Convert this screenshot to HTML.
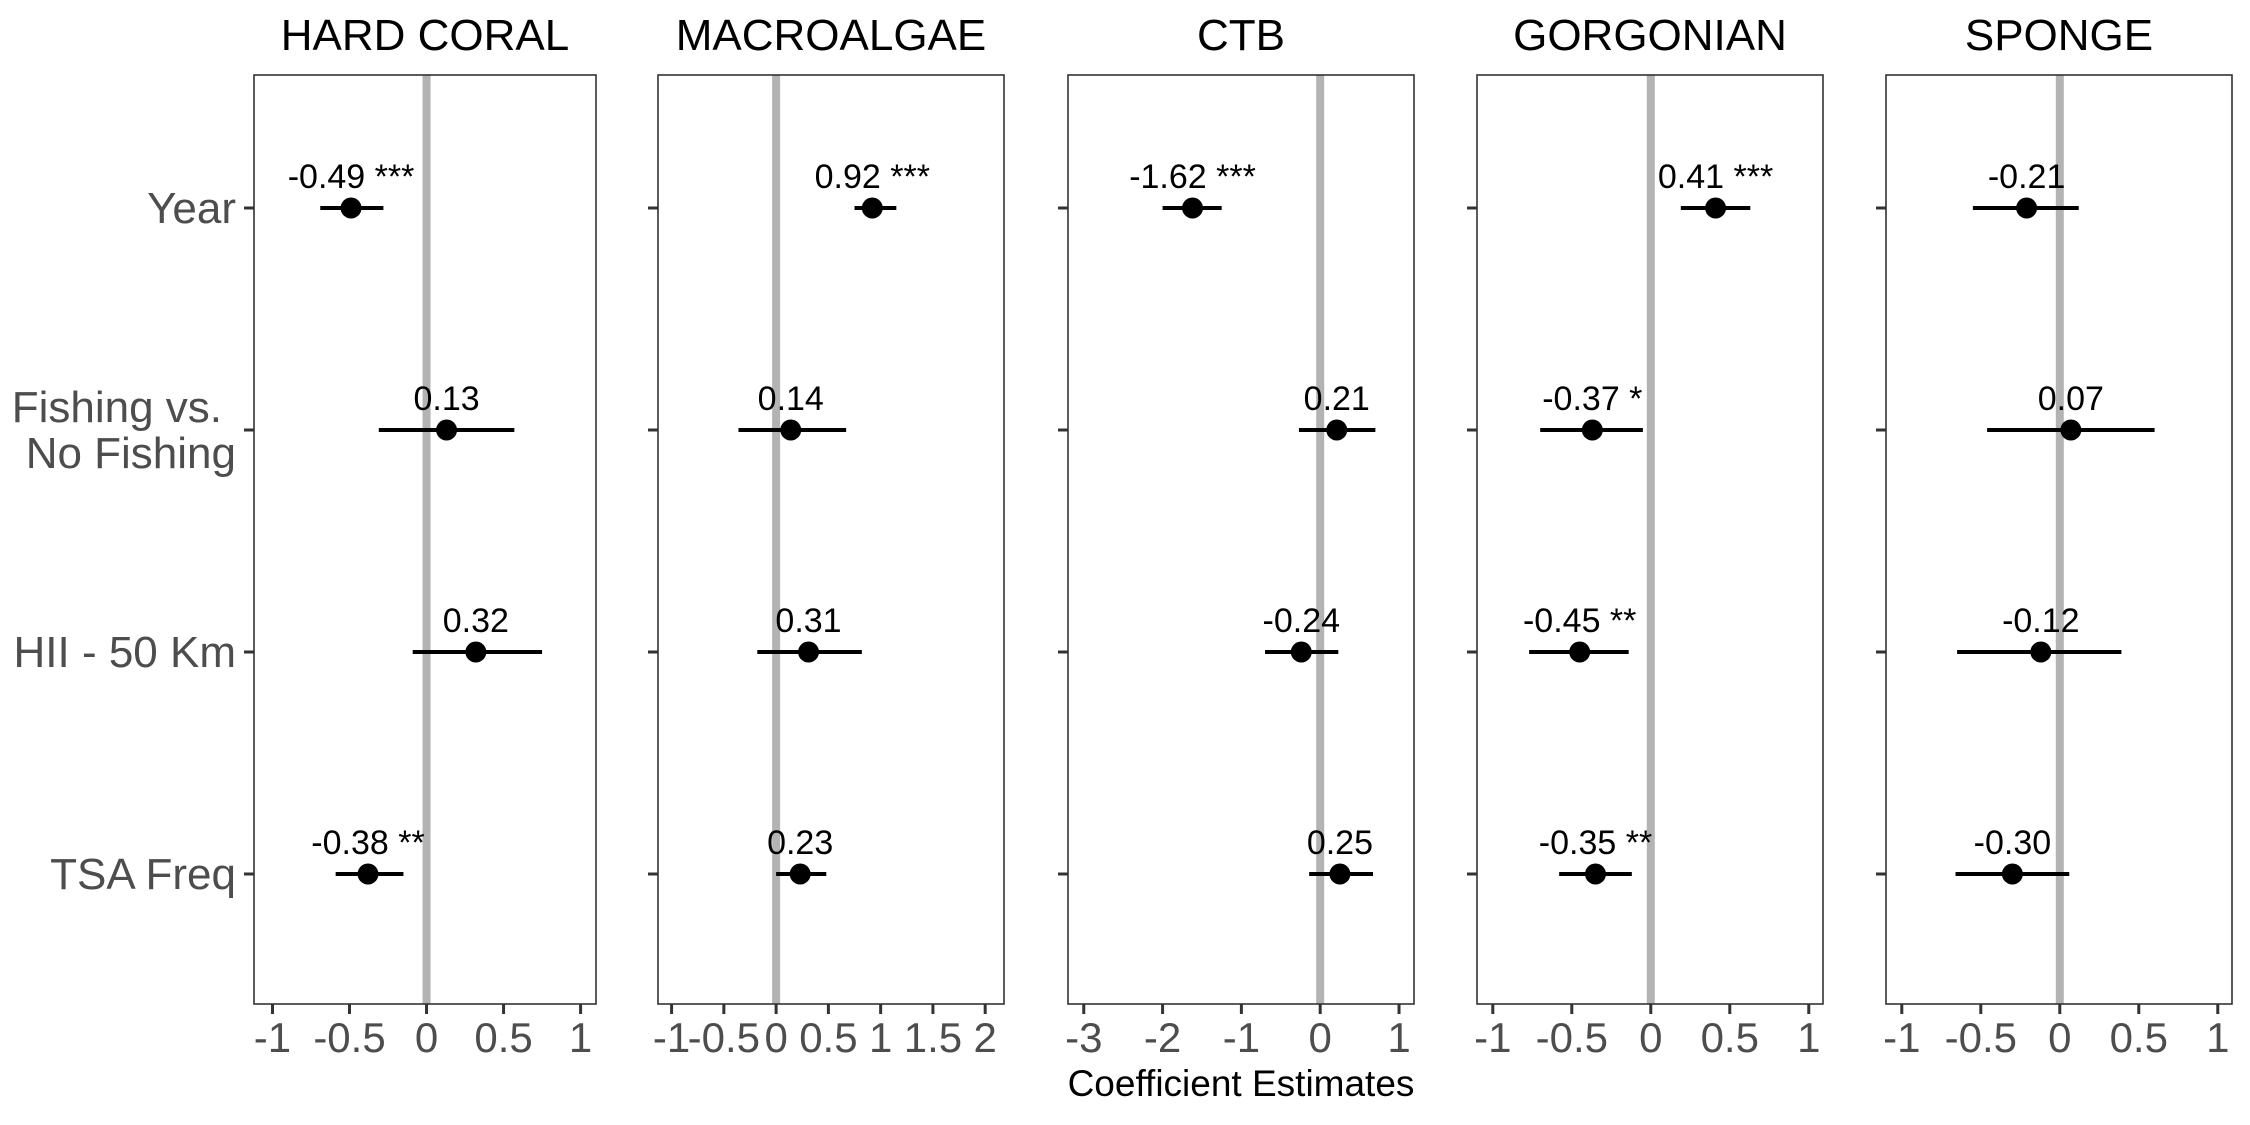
<!DOCTYPE html>
<html><head><meta charset="utf-8"><style>
html,body{margin:0;padding:0;background:#fff;}
svg{display:block;font-family:"Liberation Sans",Arial,sans-serif;}
</style></head><body>
<svg id="chart" width="2250" height="1125" viewBox="0 0 2250 1125" xmlns="http://www.w3.org/2000/svg"></svg>
<script>
const panels = ["HARD CORAL","MACROALGAE","CTB","GORGONIAN","SPONGE"];
const terms = ["Year","Fishing vs. No Fishing","HII - 50 Km","TSA Freq"];
const estHardCoral = [-0.49,0.13,0.32,-0.38];
const estMacroalgae = [0.92,0.14,0.31,0.23];
const estCTB = [-1.62,0.21,-0.24,0.25];
const estGorgonian = [0.41,-0.37,-0.45,-0.35];
const estSponge = [-0.21,0.07,-0.12,-0.30];
const lowHardCoral = [-0.69,-0.31,-0.09,-0.59];
const highHardCoral = [-0.28,0.57,0.75,-0.15];
const lowMacroalgae = [0.75,-0.36,-0.18,0.00];
const highMacroalgae = [1.15,0.67,0.82,0.48];
const lowCTB = [-2.00,-0.27,-0.70,-0.14];
const highCTB = [-1.25,0.70,0.23,0.67];
const lowGorgonian = [0.19,-0.70,-0.77,-0.58];
const highGorgonian = [0.63,-0.05,-0.14,-0.12];
const lowSponge = [-0.55,-0.46,-0.65,-0.66];
const highSponge = [0.12,0.60,0.39,0.06];
const sigHardCoral = ["***","","","**"];
const sigMacroalgae = ["***","","",""];
const sigCTB = ["***","","",""];
const sigGorgonian = ["***","*","**","**"];
const sigSponge = ["","","",""];
const ticksHardCoral = [-1,-0.5,0,0.5,1];
const ticksMacroalgae = [-1,-0.5,0,0.5,1,1.5,2];
const ticksCTB = [-3,-2,-1,0,1];
const ticksGorgonian = [-1,-0.5,0,0.5,1];
const ticksSponge = [-1,-0.5,0,0.5,1];
const domains = [[-1.12,1.10],[-1.13,2.18],[-3.20,1.19],[-1.10,1.09],[-1.10,1.09]];

const est=[estHardCoral,estMacroalgae,estCTB,estGorgonian,estSponge];
const lo=[lowHardCoral,lowMacroalgae,lowCTB,lowGorgonian,lowSponge];
const hi=[highHardCoral,highMacroalgae,highCTB,highGorgonian,highSponge];
const sig=[sigHardCoral,sigMacroalgae,sigCTB,sigGorgonian,sigSponge];
const ticks=[ticksHardCoral,ticksMacroalgae,ticksCTB,ticksGorgonian,ticksSponge];
const pLeft=[254,658,1068,1477,1886], pW=[342,346,346,346,346];
const plotTop=75,plotBottom=1004;
const svg=document.getElementById('chart');
const NS="http://www.w3.org/2000/svg";
function mk(tag,attrs,parent,text){const e=document.createElementNS(NS,tag);for(const k in attrs)e.setAttribute(k,attrs[k]);if(text!==undefined)e.textContent=text;(parent||svg).appendChild(e);return e;}
function yRow(i){return 208+i*222;}
function fmt(v){return v.toFixed(2);}
function tfmt(v){return String(v);}

const ylab=mk('g',{},svg);


terms.forEach((t,i)=>{
  const y=yRow(i);
  if(t.indexOf(' vs. ')>=0){
    const parts=t.split(' vs. ');
    const a=mk('text',{x:222,y:y-8,'text-anchor':'end','font-size':44,fill:'#4d4d4d'},ylab,parts[0]+' vs.');
    
    
    const b=mk('text',{x:236,y:y+38,'text-anchor':'end','font-size':44,fill:'#4d4d4d'},ylab,parts[1]);
    
    
  } else {
    const a=mk('text',{x:236,y:y+15,'text-anchor':'end','font-size':44,fill:'#4d4d4d'},ylab,t);
    
    
  }
});

panels.forEach((name,p)=>{
  const L=pLeft[p],W=pW[p],d=domains[p];
  const x=v=>L+(v-d[0])/(d[1]-d[0])*W;
  const g=mk('g',{},svg);
  
  
  const t=mk('text',{x:L+W/2,y:50,'text-anchor':'middle','font-size':44,fill:'#000'},g,name);
  
  
  const zl=mk('line',{x1:x(0),x2:x(0),y1:plotTop,y2:plotBottom,stroke:'#b3b3b3','stroke-width':8},g);
  
  
  const bx=mk('rect',{x:L,y:plotTop,width:W,height:plotBottom-plotTop,fill:'none',stroke:'#333','stroke-width':1.6},g);
  
  
  terms.forEach((tm,i)=>{
    const y=yRow(i);
    const tk=mk('line',{x1:L-10,x2:L,y1:y,y2:y,stroke:'#333','stroke-width':3},g);
    
    
    const eb=mk('line',{x1:x(lo[p][i]),x2:x(hi[p][i]),y1:y,y2:y,stroke:'#000','stroke-width':4},g);
    
    
    const pt=mk('circle',{cx:x(est[p][i]),cy:y,r:10.5,fill:'#000'},g);
    
    
    const s=sig[p][i];
    const lb=mk('text',{x:x(est[p][i]),y:y-20,'text-anchor':'middle','font-size':34,fill:'#000'},g,fmt(est[p][i])+(s?' '+s:''));
    
    
  });
  ticks[p].forEach(v=>{
    const xt=mk('line',{x1:x(v),x2:x(v),y1:plotBottom,y2:plotBottom+10,stroke:'#333','stroke-width':3},g);
    
    
    const xl=mk('text',{x:x(v),y:1052,'text-anchor':'middle','font-size':42,fill:'#4d4d4d'},g,tfmt(v));
    
    
  });
});
const xt=mk('text',{x:1241,y:1096,'text-anchor':'middle','font-size':37,fill:'#000'},svg,'Coefficient Estimates');


</script>
</body></html>
